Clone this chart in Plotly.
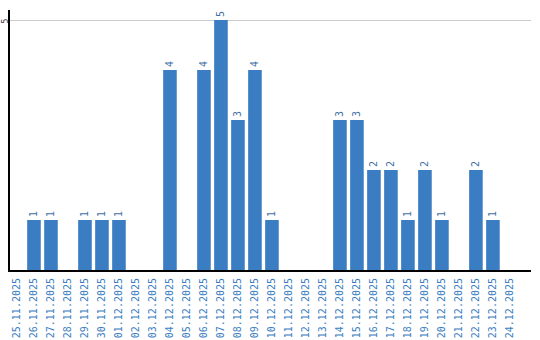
import plotly.graph_objects as go

dates = ["25.11.2025","26.11.2025","27.11.2025","28.11.2025","29.11.2025","30.11.2025",
         "01.12.2025","02.12.2025","03.12.2025","04.12.2025","05.12.2025","06.12.2025",
         "07.12.2025","08.12.2025","09.12.2025","10.12.2025","11.12.2025","12.12.2025",
         "13.12.2025","14.12.2025","15.12.2025","16.12.2025","17.12.2025","18.12.2025",
         "19.12.2025","20.12.2025","21.12.2025","22.12.2025","23.12.2025","24.12.2025"]
counts = [0,1,1,0,1,1,1,0,0,4,0,4,5,3,4,1,0,0,0,3,3,2,2,1,2,1,0,2,1,0]
y_ticks = [5]

bar_color = "#3b7dc2"
text_color = "#3a7dc0"

labels = [str(c) if c > 0 else "" for c in counts]

fig = go.Figure(go.Bar(
    x=list(range(len(dates))), y=counts,
    marker=dict(color=bar_color, line=dict(width=0)),
    text=labels, textposition="outside", textangle=-90,
    constraintext="none", cliponaxis=False,
    textfont=dict(family="DejaVu Sans Mono", size=10, color="#3f6fa5"),
    hoverinfo="skip",
))

for t in y_ticks:
    fig.add_annotation(
        x=0, xref="paper", y=t, yref="y", text=str(t), showarrow=False,
        textangle=-90, xanchor="center", yanchor="middle", xshift=-5.5, yshift=-1,
        borderpad=0,
        font=dict(family="DejaVu Sans Mono", size=8, color="#333333"),
    )

fig.update_layout(
    width=540, height=340,
    margin=dict(l=10, r=9, t=10, b=70),
    paper_bgcolor="white", plot_bgcolor="white",
    bargap=0.2, showlegend=False,
    xaxis=dict(
        range=[-0.41, 30.24], automargin=False,
        tickmode="array", tickvals=list(range(len(dates))), ticktext=dates,
        tickangle=-90, ticklabelstandoff=2,
        tickfont=dict(family="DejaVu Sans Mono", size=10, color=text_color),
        showgrid=False, zeroline=False,
        showline=True, linecolor="black", linewidth=2,
        ticks="", ticklen=0,
    ),
    yaxis=dict(
        range=[0, 5.2], automargin=False,
        tickmode="array", tickvals=y_ticks, showticklabels=False,
        showgrid=True, gridcolor="#cccccc", gridwidth=1,
        zeroline=False,
        showline=True, linecolor="black", linewidth=2,
        ticks="", ticklen=0,
    ),
)

fig.write_html("out.html")
